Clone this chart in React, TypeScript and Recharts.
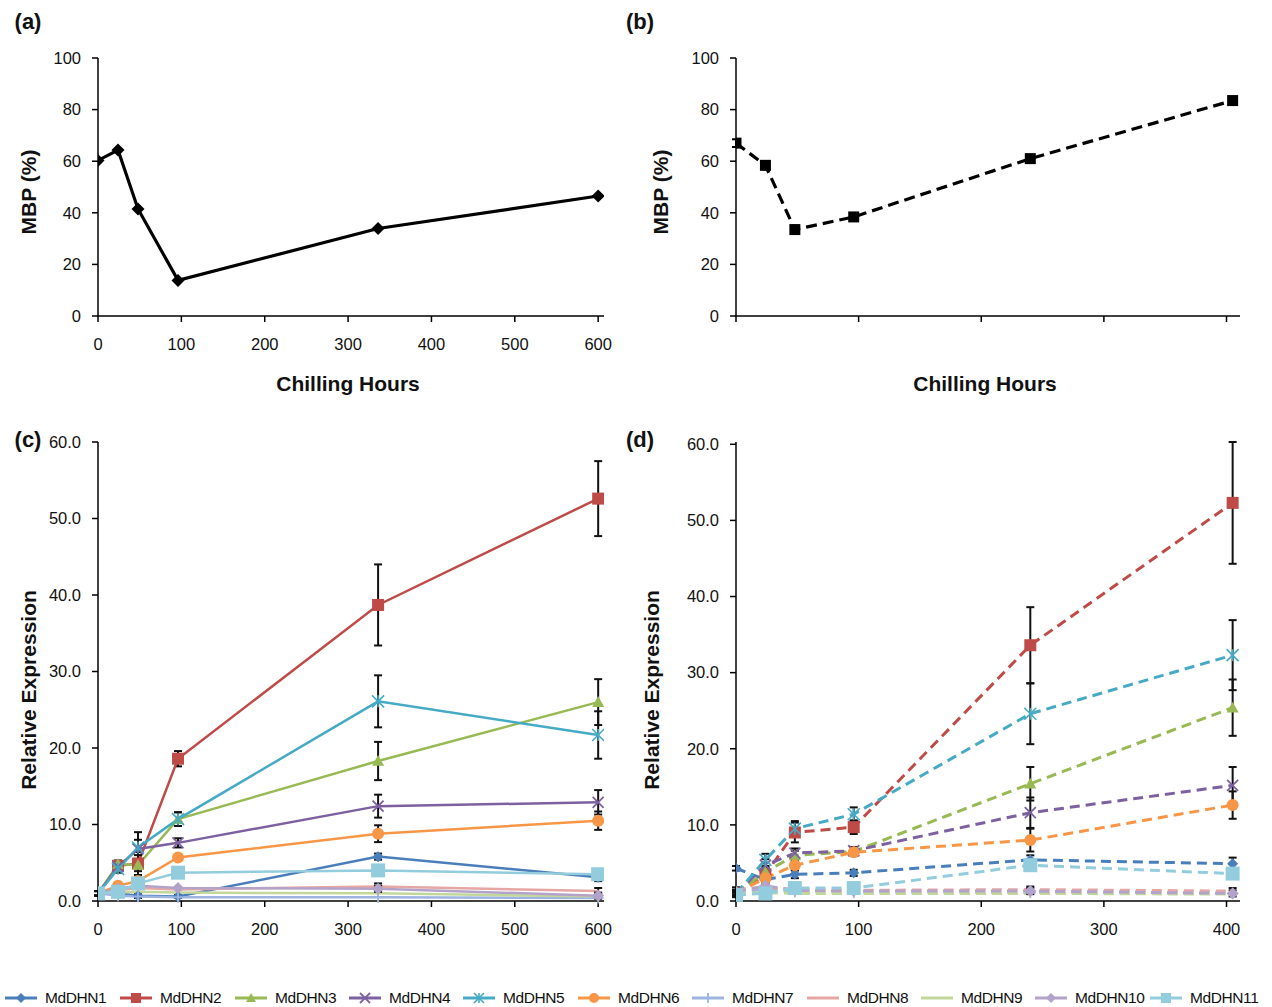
import { ErrorBar, Line, LineChart, XAxis, YAxis } from "recharts";

const FONT = '"Liberation Sans", Arial, Helvetica, sans-serif';

// (a) membrane-bound protein, season 1
const hoursA = [0, 24, 48, 96, 336, 600];
const mbpA = [60.3, 64.3, 41.5, 13.8, 33.9, 46.5];

// (b) membrane-bound protein, season 2
const hoursB = [0, 24, 48, 96, 240, 405];
const mbpB = [67.0, 58.4, 33.5, 38.4, 61.0, 83.5];
const mbpErrB = [1.5, 1.5, 1.3, 1.3, 1.3, 1.3];

const geneNames = [
  "MdDHN1", "MdDHN2", "MdDHN3", "MdDHN4", "MdDHN5", "MdDHN6",
  "MdDHN7", "MdDHN8", "MdDHN9", "MdDHN10", "MdDHN11",
];

// (c) relative expression, season 1 (same hours as a)
const dhn1C = [1.0, 1.0, 0.7, 0.6, 5.8, 3.1];
const dhn2C = [1.0, 4.6, 4.9, 18.6, 38.7, 52.6];
const dhn3C = [1.0, 4.8, 4.7, 10.7, 18.3, 26.0];
const dhn4C = [1.0, 4.5, 6.8, 7.6, 12.4, 12.9];
const dhn5C = [1.0, 4.2, 7.0, 10.7, 26.1, 21.7];
const dhn6C = [1.0, 2.0, 2.6, 5.7, 8.8, 10.5];
const dhn7C = [1.0, 0.7, 0.6, 0.5, 0.5, 0.4];
const dhn8C = [1.0, 1.4, 1.7, 1.5, 1.9, 1.3];
const dhn9C = [1.0, 1.1, 1.2, 1.1, 1.0, 0.6];
const dhn10C = [1.0, 1.6, 2.0, 1.7, 1.6, 0.7];
const dhn11C = [1.0, 1.2, 2.3, 3.7, 4.0, 3.5];

const err1C = [0.3, 0.2, 0.3, 0.2, 0.4, 0.5];
const err2C = [0.3, 0.5, 1.5, 1.0, 5.3, 4.9];
const err3C = [0.3, 0.5, 0.8, 0.9, 2.5, 3.0];
const err4C = [0.3, 0.5, 2.2, 0.6, 1.5, 1.6];
const err5C = [0.3, 0.5, 1.0, 0.9, 3.4, 3.1];
const err6C = [0.3, 0.3, 0.4, 0.4, 1.1, 1.2];
const errLowC = [null, null, null, null, 0.4, 0.4];

// (d) relative expression, season 2 (same hours as b)
const dhn1D = [4.3, 2.8, 3.5, 3.7, 5.4, 4.9];
const dhn2D = [1.0, 3.5, 9.0, 9.7, 33.6, 52.3];
const dhn3D = [1.0, 3.8, 6.0, 6.5, 15.4, 25.4];
const dhn4D = [1.0, 4.7, 6.3, 6.6, 11.6, 15.2];
const dhn5D = [1.0, 5.4, 9.5, 11.4, 24.6, 32.3];
const dhn6D = [1.0, 3.0, 4.7, 6.4, 8.0, 12.6];
const dhn7D = [1.0, 1.6, 1.2, 1.1, 1.1, 1.0];
const dhn8D = [1.5, 1.8, 1.5, 1.4, 1.5, 1.3];
const dhn9D = [1.0, 1.1, 1.0, 1.0, 1.0, 0.9];
const dhn10D = [1.2, 2.0, 1.4, 1.3, 1.3, 1.0];
const dhn11D = [0.8, 1.0, 1.7, 1.7, 4.7, 3.6];

const err1D = [0.3, 0.5, 0.5, 0.4, 0.6, 0.8];
const err2D = [0.3, 0.8, 1.3, 0.9, 5.0, 8.0];
const err3D = [0.3, 0.6, 0.6, 0.5, 2.2, 3.7];
const err4D = [0.3, 0.8, 0.6, 0.5, 2.0, 2.4];
const err5D = [0.3, 0.8, 1.0, 0.9, 4.0, 4.6];
const err6D = [0.3, 0.5, 0.6, 0.5, 1.5, 1.8];
const errLowD = [0.3, null, 0.3, 0.3, 0.4, 0.4];

const ticksMbp = [0, 20, 40, 60, 80, 100];
const ticksExpr = [0, 10, 20, 30, 40, 50, 60];
const ticksHoursA = [0, 100, 200, 300, 400, 500, 600];
const ticksHoursB = [0, 100, 200, 300, 400];

// excel-ish series styling
const geneStyle = [
  { color: "#4a7ebb", shape: "diamond", size: 11 },
  { color: "#be4b48", shape: "square", size: 12 },
  { color: "#98b954", shape: "triangle", size: 12 },
  { color: "#7d60a0", shape: "cross", size: 11 },
  { color: "#46aac5", shape: "star", size: 12 },
  { color: "#f79646", shape: "circle", size: 12 },
  { color: "#9db4e0", shape: "plus", size: 11 },
  { color: "#e6a6a4", shape: "none", size: 0 },
  { color: "#c3d79b", shape: "none", size: 0 },
  { color: "#b3a3cb", shape: "diamond", size: 12 },
  { color: "#93cddd", shape: "square", size: 14 },
];

const valuesC = [dhn1C, dhn2C, dhn3C, dhn4C, dhn5C, dhn6C, dhn7C, dhn8C, dhn9C, dhn10C, dhn11C];
const errsC = [err1C, err2C, err3C, err4C, err5C, err6C, null, errLowC, null, errLowC, errLowC];
const valuesD = [dhn1D, dhn2D, dhn3D, dhn4D, dhn5D, dhn6D, dhn7D, dhn8D, dhn9D, dhn10D, dhn11D];
const errsD = [err1D, err2D, err3D, err4D, err5D, err6D, null, errLowD, null, errLowD, errLowD];

// eslint-disable-next-line @typescript-eslint/no-explicit-any
type Row = Record<string, any>;

function buildRows(hours: number[], values: number[][], errs: (Array<number | null> | null)[]): Row[] {
  return hours.map((h, i) => {
    const r: Row = { h };
    values.forEach((v, k) => {
      r["g" + k] = v[i];
      const e = errs[k];
      r["e" + k] = e && e[i] != null ? e[i] : undefined;
    });
    return r;
  });
}

const rowsA = hoursA.map((h, i) => ({ h, mbp: mbpA[i] }));
const rowsB = hoursB.map((h, i) => ({ h, mbp: mbpB[i], err: mbpErrB[i] }));
const rowsC = buildRows(hoursA, valuesC, errsC);
const rowsD = buildRows(hoursB, valuesD, errsD);

function Marker({ shape, x, y, color, size }: { shape: string; x: number; y: number; color: string; size: number }) {
  const r = size / 2;
  switch (shape) {
    case "diamond":
      return <polygon points={`${x},${y - r} ${x + r},${y} ${x},${y + r} ${x - r},${y}`} fill={color} />;
    case "square":
      return <rect x={x - r} y={y - r} width={size} height={size} fill={color} />;
    case "triangle":
      return <polygon points={`${x},${y - r} ${x + r},${y + r * 0.8} ${x - r},${y + r * 0.8}`} fill={color} />;
    case "cross":
      return (
        <g stroke={color} strokeWidth={1.8}>
          <line x1={x - r} y1={y - r} x2={x + r} y2={y + r} />
          <line x1={x - r} y1={y + r} x2={x + r} y2={y - r} />
        </g>
      );
    case "star":
      return (
        <g stroke={color} strokeWidth={1.6}>
          <line x1={x - r} y1={y - r} x2={x + r} y2={y + r} />
          <line x1={x - r} y1={y + r} x2={x + r} y2={y - r} />
          <line x1={x} y1={y - r} x2={x} y2={y + r} />
        </g>
      );
    case "circle":
      return <circle cx={x} cy={y} r={r} fill={color} />;
    case "plus":
      return (
        <g stroke={color} strokeWidth={1.8}>
          <line x1={x - r} y1={y} x2={x + r} y2={y} />
          <line x1={x} y1={y - r} x2={x} y2={y + r} />
        </g>
      );
    default:
      return <g />;
  }
}

function dotFor(shape: string, color: string, size: number) {
  // eslint-disable-next-line @typescript-eslint/no-explicit-any
  return (p: any) => {
    if (p.cx == null || p.cy == null || shape === "none") return <g key={`d-${p.index}`} />;
    return (
      <g key={`d-${p.index}`}>
        <Marker shape={shape} x={p.cx} y={p.cy} color={color} size={size} />
      </g>
    );
  };
}

const tickStyle = { fill: "#111", fontSize: 16.5, fontFamily: FONT };
const axisStroke = { stroke: "#000", strokeWidth: 1.5 };

function xAxis(domainMax: number, ticks: number[], showLabels = true) {
  return (
    <XAxis
      dataKey="h"
      type="number"
      domain={[0, domainMax]}
      ticks={ticks}
      interval={0}
      tick={tickStyle}
      tickFormatter={(v) => (showLabels ? String(v) : "")}
      tickLine={axisStroke}
      axisLine={axisStroke}
      tickSize={6}
      tickMargin={16}
      height={40}
      allowDataOverflow
    />
  );
}

function yAxis(domainMax: number, ticks: number[], decimals: number) {
  return (
    <YAxis
      type="number"
      domain={[0, domainMax]}
      ticks={ticks}
      interval={0}
      tick={tickStyle}
      tickFormatter={(v) => Number(v).toFixed(decimals)}
      tickLine={axisStroke}
      axisLine={axisStroke}
      tickSize={6}
      tickMargin={11}
      width={60}
    />
  );
}

function geneLines(dashed: boolean) {
  return geneStyle.map((s, k) => (
    <Line
      key={k}
      dataKey={"g" + k}
      name={geneNames[k]}
      stroke={s.color}
      strokeWidth={dashed ? 3 : 2.5}
      strokeDasharray={dashed ? "10 6" : undefined}
      dot={dotFor(s.shape, s.color, s.size)}
      activeDot={false}
      isAnimationActive={false}
    >
      <ErrorBar dataKey={"e" + k} direction="y" width={4} stroke="#111" strokeWidth={2} />
    </Line>
  ));
}

function Txt({ x, y, size, children, rotate = false }: { x: number; y: number; size: number; children: string; rotate?: boolean }) {
  return (
    <div
      style={{
        position: "absolute",
        left: x,
        top: y,
        transform: `translate(-50%, -50%)${rotate ? " rotate(-90deg)" : ""}`,
        fontSize: size,
        fontWeight: 700,
        whiteSpace: "nowrap",
        color: "#111",
        lineHeight: 1,
      }}
    >
      {children}
    </div>
  );
}

const legendX = [5, 120, 235, 349, 463, 578, 692, 807, 921, 1035, 1150];

function LegendRow() {
  return (
    <>
      {geneNames.map((name, k) => {
        const s = geneStyle[k];
        return (
          <div
            key={name}
            style={{ position: "absolute", left: legendX[k], top: 989, display: "flex", alignItems: "center", height: 18 }}
          >
            <svg width={32} height={16} style={{ marginRight: 8 }}>
              <line x1={0} y1={8} x2={32} y2={8} stroke={s.color} strokeWidth={3} />
              <Marker shape={s.shape} x={16} y={8} color={s.color} size={s.size ? 10 : 0} />
            </svg>
            <span style={{ fontSize: 15.5, letterSpacing: -0.4, color: "#111" }}>{name}</span>
          </div>
        );
      })}
    </>
  );
}

export default function App() {
  return (
    <div style={{ position: "absolute", left: 0, top: 0, width: 1272, height: 1007, background: "#fff", fontFamily: FONT }}>
      {/* (a) */}
      <div style={{ position: "absolute", left: 0, top: 0 }}>
        <LineChart width={640} height={400} data={rowsA} margin={{ top: 58, right: 36, bottom: 44, left: 38 }}>
          {xAxis(607, ticksHoursA)}
          {yAxis(100, ticksMbp, 0)}
          <Line
            dataKey="mbp"
            stroke="#000"
            strokeWidth={3.2}
            dot={dotFor("diamond", "#000", 13)}
            activeDot={false}
            isAnimationActive={false}
          />
        </LineChart>
      </div>

      {/* (b) */}
      <div style={{ position: "absolute", left: 640, top: 0 }}>
        <LineChart width={632} height={400} data={rowsB} margin={{ top: 58, right: 32, bottom: 44, left: 36 }}>
          {xAxis(411, ticksHoursB, false)}
          {yAxis(100, ticksMbp, 0)}
          <Line
            dataKey="mbp"
            stroke="#000"
            strokeWidth={3.2}
            strokeDasharray="11 6"
            dot={dotFor("square", "#000", 11)}
            activeDot={false}
            isAnimationActive={false}
          >
            <ErrorBar dataKey="err" direction="y" width={4} stroke="#000" strokeWidth={2} />
          </Line>
        </LineChart>
      </div>

      {/* (c) */}
      <div style={{ position: "absolute", left: 0, top: 400 }}>
        <LineChart width={640} height={560} data={rowsC} margin={{ top: 42, right: 36, bottom: 19, left: 38 }}>
          {xAxis(607, ticksHoursA)}
          {yAxis(60, ticksExpr, 1)}
          {geneLines(false)}
        </LineChart>
      </div>

      {/* (d) */}
      <div style={{ position: "absolute", left: 640, top: 400 }}>
        <LineChart width={632} height={560} data={rowsD} margin={{ top: 42, right: 32, bottom: 19, left: 36 }}>
          {xAxis(411, ticksHoursB)}
          {yAxis(60, ticksExpr, 1)}
          {geneLines(true)}
        </LineChart>
      </div>

      <Txt x={28} y={22} size={22}>(a)</Txt>
      <Txt x={640} y={22} size={22}>(b)</Txt>
      <Txt x={28} y={440} size={22}>(c)</Txt>
      <Txt x={640} y={440} size={22}>(d)</Txt>

      <Txt x={28} y={192} size={21} rotate>MBP (%)</Txt>
      <Txt x={660} y={192} size={21} rotate>MBP (%)</Txt>
      <Txt x={348} y={383} size={21}>Chilling Hours</Txt>
      <Txt x={985} y={383} size={21}>Chilling Hours</Txt>
      <Txt x={28} y={690} size={21} rotate>Relative Expression</Txt>
      <Txt x={651} y={690} size={21} rotate>Relative Expression</Txt>

      <LegendRow />
    </div>
  );
}
